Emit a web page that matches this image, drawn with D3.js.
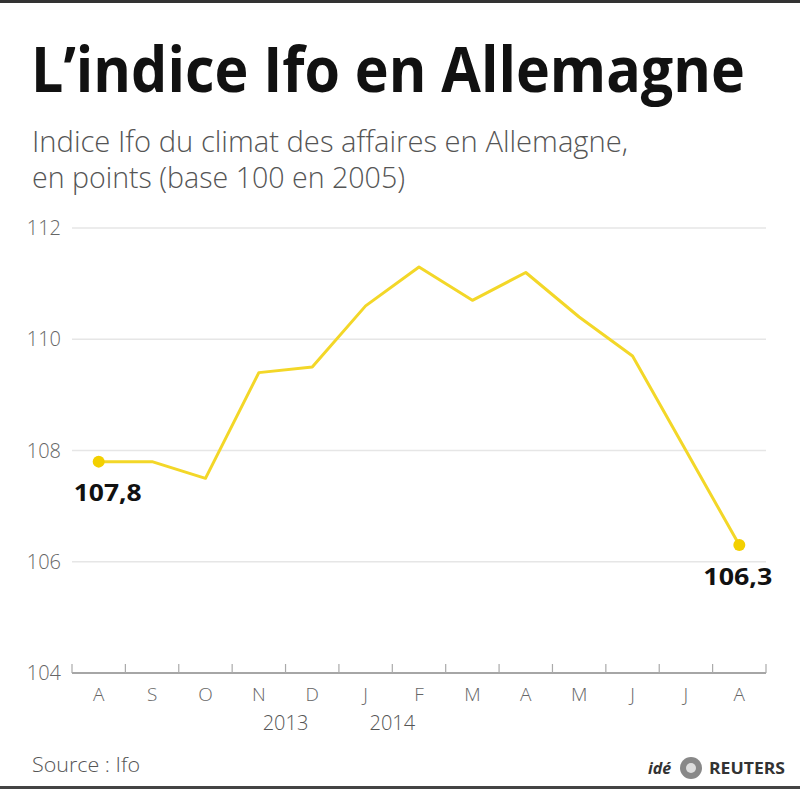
<!DOCTYPE html>
<html>
<head>
<meta charset="utf-8">
<script src="https://cdn.jsdelivr.net/npm/d3@7"></script>
<style>
  body { margin: 0; background: #fff; }
  svg { display: block; font-family: "Open Sans", "Noto Sans", sans-serif; }
</style>
</head>
<body>
<div id="vis"></div>
<script>
// data
let months = ["A", "S", "O", "N", "D", "J", "F", "M", "A", "M", "J", "J", "A"];
let values = [107.8, 107.8, 107.5, 109.4, 109.5, 110.6, 111.3, 110.7, 111.2, 110.4, 109.7, 108.0, 106.3];
let yTicks = [104, 106, 108, 110, 112];
let years = [{ label: "2013", tick: 4 }, { label: "2014", tick: 6 }];

let W = 800, H = 789;
let margin = { top: 228, left: 72, right: 34, bottom: 116 };

let svg = d3.select('#vis')
  .append('svg')
  .attr('width', W)
  .attr('height', H);

svg.append('rect').attr('width', W).attr('height', H).attr('fill', '#fff');
svg.append('rect').attr('width', W).attr('height', 3).attr('fill', '#333');
svg.append('rect').attr('y', H - 3).attr('width', W).attr('height', 3).attr('fill', '#444');

// title: squeezed horizontally to look condensed
let title = svg.append('text')
  .attr('x', 0).attr('y', 0)
  .attr('font-size', 63).attr('font-weight', 700)
  .attr('fill', '#111')
  .text("L’indice Ifo en Allemagne");
let tw = title.node().getComputedTextLength();
title.attr('transform', `translate(31, 92) scale(${714 / tw}, 1)`);

svg.append('text')
  .attr('x', 32).attr('y', 152)
  .attr('font-size', 29).attr('font-weight', 300)
  .attr('textLength', 596).attr('lengthAdjust', 'spacingAndGlyphs')
  .attr('fill', '#555')
  .text("Indice Ifo du climat des affaires en Allemagne,");

svg.append('text')
  .attr('x', 32).attr('y', 188)
  .attr('font-size', 29).attr('font-weight', 300)
  .attr('textLength', 373).attr('lengthAdjust', 'spacingAndGlyphs')
  .attr('fill', '#555')
  .text("en points (base 100 en 2005)");

let x = d3.scaleBand()
  .domain(d3.range(months.length))
  .range([margin.left, W - margin.right]);

let y = d3.scaleLinear()
  .domain([104, 112])
  .range([H - margin.bottom, margin.top]);

// grid
svg.append('g')
  .selectAll('line')
  .data(yTicks.filter(d => d > 104))
  .join('line')
  .attr('x1', margin.left).attr('x2', W - margin.right)
  .attr('y1', d => y(d)).attr('y2', d => y(d))
  .attr('stroke', '#e6e6e6').attr('stroke-width', 1.5);

// y labels
svg.append('g')
  .selectAll('text')
  .data(yTicks)
  .join('text')
  .attr('x', 61).attr('y', d => y(d) + 7)
  .attr('text-anchor', 'end')
  .attr('font-size', 20).attr('font-weight', 300)
  .attr('fill', '#666')
  .text(d => d);

// x axis
let axisY = y(104);
svg.append('line')
  .attr('x1', margin.left).attr('x2', W - margin.right)
  .attr('y1', axisY).attr('y2', axisY)
  .attr('stroke', '#888').attr('stroke-width', 1.5);

svg.append('g')
  .selectAll('line')
  .data(d3.range(months.length + 1))
  .join('line')
  .attr('x1', d => margin.left + d * x.bandwidth())
  .attr('x2', d => margin.left + d * x.bandwidth())
  .attr('y1', axisY).attr('y2', axisY - 9)
  .attr('stroke', '#aaa').attr('stroke-width', 1.2);

svg.append('g')
  .selectAll('text')
  .data(months)
  .join('text')
  .attr('x', (d, i) => x(i) + x.bandwidth() / 2)
  .attr('y', axisY + 28)
  .attr('text-anchor', 'middle')
  .attr('font-size', 19).attr('font-weight', 300)
  .attr('fill', '#666')
  .text(d => d);

svg.append('g')
  .selectAll('text')
  .data(years)
  .join('text')
  .attr('x', d => margin.left + d.tick * x.bandwidth())
  .attr('y', axisY + 57)
  .attr('text-anchor', 'middle')
  .attr('font-size', 20).attr('font-weight', 300)
  .attr('fill', '#555')
  .text(d => d.label);

// line
let line = d3.line()
  .x((d, i) => x(i) + x.bandwidth() / 2)
  .y(d => y(d));

svg.append('path')
  .datum(values)
  .attr('d', line)
  .attr('fill', 'none')
  .attr('stroke', '#f3d728')
  .attr('stroke-width', 3)
  .attr('stroke-linejoin', 'round');

let last = values.length - 1;
let ends = [0, last];
svg.append('g')
  .selectAll('circle')
  .data(ends)
  .join('circle')
  .attr('cx', i => x(i) + x.bandwidth() / 2)
  .attr('cy', i => y(values[i]))
  .attr('r', 6)
  .attr('fill', '#f3d000');

let fmt = v => v.toFixed(1).replace('.', ',');

svg.append('text')
  .attr('x', x(0) + x.bandwidth() / 2 - 25).attr('y', y(values[0]) + 39)
  .attr('font-size', 24).attr('font-weight', 700)
  .attr('textLength', 68).attr('lengthAdjust', 'spacingAndGlyphs')
  .attr('fill', '#111')
  .text(fmt(values[0]));

svg.append('text')
  .attr('x', x(last) + x.bandwidth() / 2 - 36).attr('y', y(values[last]) + 40)
  .attr('font-size', 24).attr('font-weight', 700)
  .attr('textLength', 69).attr('lengthAdjust', 'spacingAndGlyphs')
  .attr('fill', '#111')
  .text(fmt(values[last]));

// footer
svg.append('text')
  .attr('x', 32).attr('y', 772)
  .attr('font-size', 20).attr('font-weight', 300)
  .attr('textLength', 108).attr('lengthAdjust', 'spacingAndGlyphs')
  .attr('fill', '#555')
  .text("Source : Ifo");

svg.append('text')
  .attr('x', 648).attr('y', 774)
  .attr('font-size', 16).attr('font-weight', 700).attr('font-style', 'italic')
  .attr('fill', '#333')
  .text("idé");
svg.append('circle')
  .attr('cx', 691).attr('cy', 768).attr('r', 11)
  .attr('fill', '#888');
svg.append('circle')
  .attr('cx', 691).attr('cy', 768).attr('r', 5)
  .attr('fill', '#ddd');
svg.append('text')
  .attr('x', 709).attr('y', 774)
  .attr('font-size', 16).attr('font-weight', 700)
  .attr('textLength', 76).attr('lengthAdjust', 'spacingAndGlyphs')
  .attr('fill', '#333')
  .text("REUTERS");
</script>
</body>
</html>
